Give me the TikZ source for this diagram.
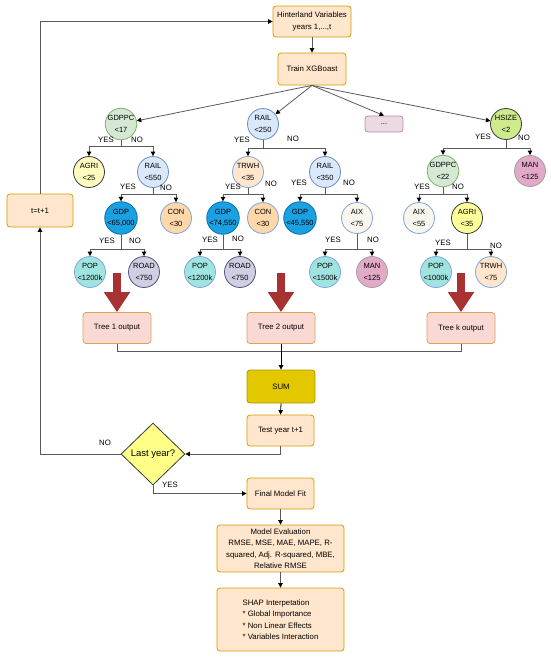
\documentclass[tikz,border=0pt]{standalone}
\usepackage{fontspec}
\setmainfont{Liberation Sans}
\usetikzlibrary{arrows.meta,shapes.geometric}
\definecolor{boxf}{HTML}{FFE6CC}
\definecolor{boxd}{HTML}{D79B00}
\definecolor{treef}{HTML}{FAD9D5}
\definecolor{treed}{HTML}{DDA15E}
\definecolor{sumf}{HTML}{E3C800}
\definecolor{sumd}{HTML}{B09500}
\definecolor{diaf}{HTML}{FFFF88}
\definecolor{diad}{HTML}{36393D}
\definecolor{dotsf}{HTML}{EBD9E4}
\definecolor{dotsd}{HTML}{C08AAE}
\definecolor{lineg}{HTML}{5A5A5A}
\definecolor{redc}{HTML}{A83232}
\definecolor{blued}{HTML}{7EA6E0}
\begin{document}
\begin{tikzpicture}[x=1pt,y=-1pt,
  box/.style={draw=boxd, fill=boxf, rounded corners=3pt, line width=0.8pt, align=center, inner sep=1pt, font=\fontsize{7.8}{11.5}\selectfont},
  treebox/.style={box, draw=treed, fill=treef, minimum width=68, minimum height=31},
  circ/.style={circle, line width=0.8pt, minimum size=31, inner sep=0pt, align=center, font=\fontsize{7.5}{11.5}\selectfont},
  cgreen/.style={circ, fill={rgb,255:red,213;green,232;blue,212}, draw={rgb,255:red,130;green,179;blue,102}},
  cblue/.style={circ, fill={rgb,255:red,218;green,232;blue,252}, draw={rgb,255:red,108;green,142;blue,191}},
  cyel/.style={circ, fill={rgb,255:red,255;green,252;blue,192}, draw=diad},
  cyel2/.style={circ, fill={rgb,255:red,255;green,255;blue,153}, draw=diad},
  cgdp/.style={circ, fill={rgb,255:red,27;green,161;blue,226}, draw={rgb,255:red,0;green,110;blue,175}},
  cpeach/.style={circ, fill={rgb,255:red,255;green,215;blue,168}, draw=blued},
  cpeach2/.style={circ, fill=boxf, draw=blued},
  cteal/.style={circ, fill={rgb,255:red,160;green,228;blue,224}, draw=blued},
  cpurp/.style={circ, fill={rgb,255:red,208;green,206;blue,226}, draw={rgb,255:red,86;green,81;blue,126}},
  cmauve/.style={circ, fill={rgb,255:red,227;green,169;blue,201}, draw={rgb,255:red,160;green,160;blue,160}},
  civory/.style={circ, fill={rgb,255:red,249;green,247;blue,237}, draw=blued},
  clime/.style={circ, fill={rgb,255:red,205;green,235;blue,139}, draw=diad},
  lab/.style={font=\fontsize{7.8}{9}\selectfont, inner sep=0pt},
  arr/.style={draw=lineg, line width=0.8pt, -{Triangle[length=4.5pt,width=4.5pt,color=black]}},
  plain/.style={draw=lineg, line width=0.8pt},
  redarr/.style={draw=redc, line width=8pt, -{Triangle[length=20pt,width=25pt]}}
]
\useasboundingbox (0,0) rectangle (550,657);

% main boxes
\node[box, minimum width=78, minimum height=31] (hint) at (312,21.5) {Hinterland Variables\\years 1,...,t};
\node[box, minimum width=68, minimum height=32] (train) at (312,69) {Train XGBoast};
\node[box, draw=dotsd, fill=dotsf, minimum width=38, minimum height=16] (dots) at (384,124) {...};
\node[box, minimum width=66, minimum height=33] (tplus) at (40,210.5) {t=t+1};

% level 1
\node[cgreen] (gdppc17) at (121,124) {GDPPC\\<17};
\node[cblue] (rail250) at (263,124) {RAIL\\<250};
\node[clime] (hsize) at (506,124) {HSIZE\\<2};

% level 2
\node[cyel] (agri25) at (89,172) {AGRI\\<25};
\node[cblue] (rail550) at (153,172) {RAIL\\<550};
\node[cpeach2] (trwh35) at (248,172) {TRWH\\<35};
\node[cblue] (rail350) at (325,172) {RAIL\\<350};
\node[cgreen] (gdppc22) at (443,171) {GDPPC\\<22};
\node[cmauve] (man125a) at (530,171) {MAN\\<125};

% level 3
\node[cgdp] (gdp65) at (121,218) {GDP\\<65,000};
\node[cpeach] (con30a) at (176,218) {CON\\<30};
\node[cgdp] (gdp74) at (223,218) {GDP\\<74,550};
\node[cpeach] (con30b) at (263,218) {CON\\<30};
\node[cgdp] (gdp45) at (300,218) {GDP\\<45,550};
\node[civory] (aix75) at (357,218) {AIX\\<75};
\node[civory] (aix55) at (419,218) {AIX\\<55};
\node[cyel2] (agri35) at (467,218) {AGRI\\<35};

% level 4
\node[cteal] (pop1200a) at (90,272) {POP\\<1200k};
\node[cpurp] (road750a) at (144,272) {ROAD\\<750};
\node[cteal] (pop1200b) at (200,272) {POP\\<1200k};
\node[cpurp] (road750b) at (240,272) {ROAD\\<750};
\node[cteal] (pop1500) at (325,272) {POP\\<1500k};
\node[cmauve] (man125b) at (372,272) {MAN\\<125};
\node[cteal] (pop1000) at (436,272) {POP\\<1000k};
\node[cpeach2] (trwh75) at (491,272) {TRWH\\<75};

% tree outputs
\node[treebox] (tree1) at (117,328) {Tree 1 output};
\node[treebox] (tree2) at (281,328) {Tree 2 output};
\node[treebox] (treek) at (461,328) {Tree k output};

\node[box, draw=sumd, fill=sumf, minimum width=68, minimum height=33] (sum) at (281,386.5) {SUM};
\node[box, minimum width=67, minimum height=31] (test) at (280.5,430.5) {Test year t+1};
\node[diamond, draw=diad, fill=diaf, line width=0.8pt, minimum width=64, minimum height=62, inner sep=0pt,
  label={[font=\fontsize{9.5}{11}\selectfont]center:Last year?}] (dia) at (153,454) {};
\node[box, minimum width=67, minimum height=31] (final) at (280.5,493.5) {Final Model Fit};
\node[box, minimum width=127, minimum height=47] (eval) at (280.5,548.5) {Model Evaluation\\RMSE, MSE, MAE, MAPE, R-\\squared, Adj. R-squared, MBE,\\Relative RMSE};
\node[box, minimum width=127, minimum height=63, align=left, inner ysep=6pt] (shap) at (280.5,619.5) {SHAP Interpetation\\* Global Importance\\* Non Linear Effects\\* Variables Interaction};

% top connections
\draw[arr] (hint.south) -- (train.north);
\draw[arr] (train.south) -- (gdppc17);
\draw[arr] (train.south) -- (rail250);
\draw[arr] (train.south) -- (dots.north);
\draw[arr] (train.south) -- (hsize);

% tree 1
\draw[arr] (gdppc17.south) -- ++(0,6) -| (agri25.north);
\draw[arr] (gdppc17.south) -- ++(0,6) -| (rail550.north);
\draw[arr] (rail550.south) -- ++(0,6) -| (gdp65.north);
\draw[arr] (rail550.south) -- ++(0,6) -| (con30a.north);
\draw[arr] (gdp65.south) -- ++(0,15) -| (pop1200a.north);
\draw[arr] (gdp65.south) -- ++(0,15) -| (road750a.north);
% tree 2
\draw[arr] (rail250.south) -- ++(0,8) -| (trwh35.north);
\draw[arr] (rail250.south) -- ++(0,8) -| (rail350.north);
\draw[arr] (trwh35.south) -- ++(0,6) -| (gdp74.north);
\draw[arr] (trwh35.south) -- ++(0,6) -| (con30b.north);
\draw[arr] (rail350.south) -- ++(0,6) -| (gdp45.north);
\draw[arr] (rail350.south) -- ++(0,6) -| (aix75.north);
\draw[arr] (gdp74.south) -- ++(0,15) -| (pop1200b.north);
\draw[arr] (gdp74.south) -- ++(0,15) -| (road750b.north);
\draw[arr] (aix75.south) -- ++(0,15) -| (pop1500.north);
\draw[arr] (aix75.south) -- ++(0,15) -| (man125b.north);
% tree k
\draw[arr] (hsize.south) -- ++(0,8) -| (gdppc22.north);
\draw[arr] (hsize.south) -- ++(0,8) -| (man125a.north);
\draw[arr] (gdppc22.south) -- ++(0,7) -| (aix55.north);
\draw[arr] (gdppc22.south) -- ++(0,7) -| (agri35.north);
\draw[arr] (agri35.south) -- ++(0,15) -| (pop1000.north);
\draw[arr] (agri35.south) -- ++(0,15) -| (trwh75.north);

% YES / NO labels
\node[lab] (y1) at (106,140) {YES}; \node[lab] (n1) at (137,140) {NO};
\node[lab] (y2) at (242,140) {YES}; \node[lab] (n2) at (293,139) {NO};
\node[lab] (y3) at (483,137) {YES}; \node[lab] (n3) at (524,138) {NO};
\node[lab] (y4) at (128,187) {YES}; \node[lab] (n4) at (166,188) {NO};
\node[lab] (y5) at (233,187) {YES}; \node[lab] (n5) at (271,184) {NO};
\node[lab] (y6) at (299,183) {YES}; \node[lab] (n6) at (349,183) {NO};
\node[lab] (y7) at (422,187) {YES}; \node[lab] (n7) at (458,187) {NO};
\node[lab] (y8) at (107,241) {YES}; \node[lab] (n8) at (135,241) {NO};
\node[lab] (y9) at (210,240) {YES}; \node[lab] (n9) at (238,239) {NO};
\node[lab] (y10) at (333,240) {YES}; \node[lab] (n10) at (373,240) {NO};
\node[lab] (y11) at (443,243) {YES}; \node[lab] (n11) at (496,246) {NO};
\node[lab] (ndia) at (105,443) {NO};
\node[lab] (ydia) at (170,485) {YES};

% red arrows
\coordinate (r1) at (117,273);
\coordinate (r2) at (281,273);
\coordinate (r3) at (461,273);
\draw[redarr] (r1) -- (tree1.north);
\draw[redarr] (r2) -- (tree2.north);
\draw[redarr] (r3) -- (treek.north);

% collector
\draw[plain] (tree1.south) -- ++(0,7) -| (treek.south);
\draw[arr, draw=black] (tree2.south) -- (sum.north);
\draw[arr, draw=black] (sum.south) -- (test.north);
\draw[arr] (test.south) |- (dia.east);
\draw[arr] (dia.south) |- (final.west);
\draw[arr] (final.south) -- (eval.north);
\draw[arr] (eval.south) -- (shap.north);

% loop
\draw[arr] (dia.west) -- (tplus.south |- dia.west) -- (tplus.south);
\draw[arr] (tplus.north) |- (hint.west);
\end{tikzpicture}
\end{document}
